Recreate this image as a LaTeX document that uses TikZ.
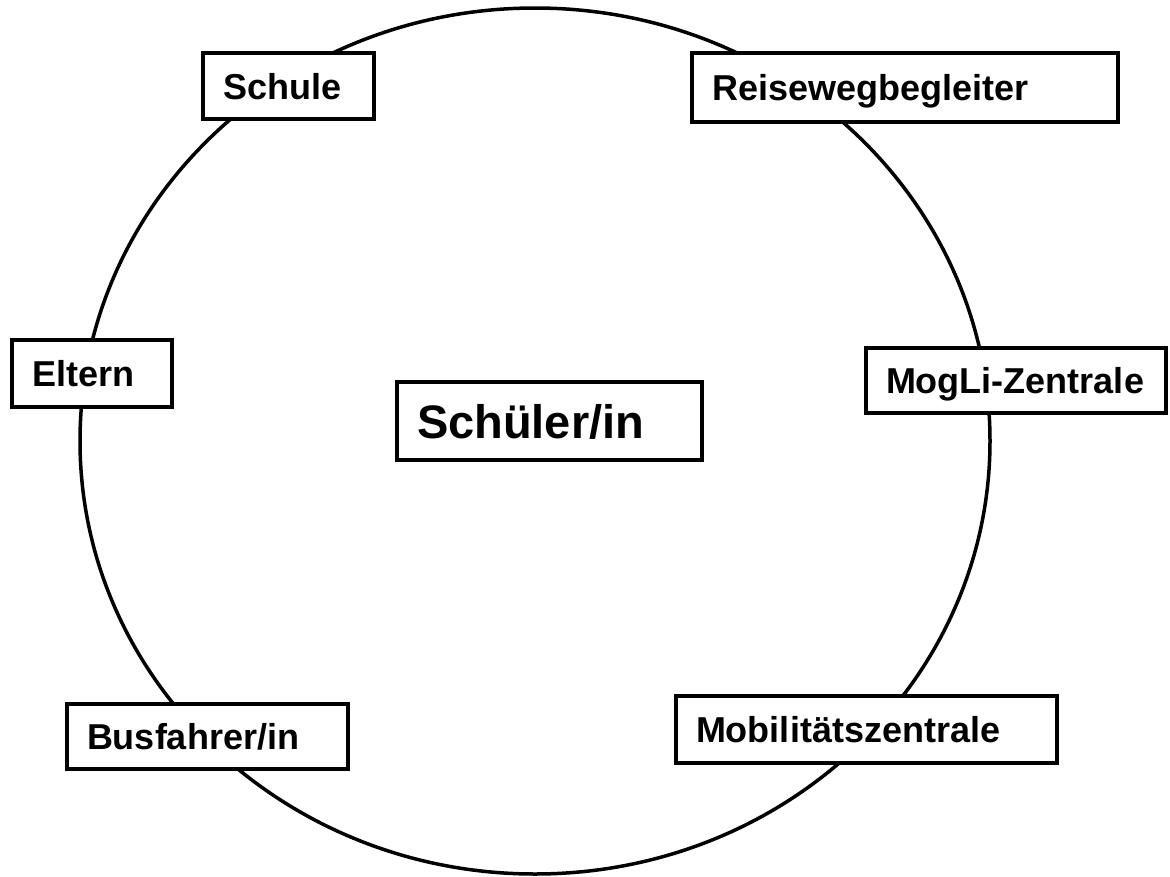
\documentclass[tikz,border=0pt]{standalone}
\usepackage{fontspec}
\setmainfont{Liberation Sans}
\begin{document}
\begin{tikzpicture}[x=1pt,y=-1pt,
  lbl/.style={draw=black, fill=white, line width=3.5pt, rectangle, inner xsep=20pt, inner ysep=0pt,
    align=left, font=\fontsize{36pt}{40pt}\selectfont\bfseries, text height=26pt, text depth=0pt},
  biglbl/.style={lbl, font=\fontsize{47pt}{52pt}\selectfont\bfseries, text height=34pt}]
\useasboundingbox (0,0) rectangle (1170,876);
\draw[line width=3.5pt] (535,441) ellipse [x radius=455pt, y radius=433pt];
\node[lbl, text width=131pt, minimum height=66pt] (schule) at (288.5,86) {Schule};
\node[lbl, text width=386pt, minimum height=69pt] (reise) at (905,87.5) {Reisewegbegleiter};
\node[lbl, text width=120pt, minimum height=67pt] (eltern) at (92,373.5) {Eltern};
\node[lbl, text width=260pt, minimum height=65pt] (mogli) at (1016,380.5) {MogLi-Zentrale};
\node[biglbl, text width=265pt, minimum height=78pt] (schueler) at (549.5,421) {Schüler/in};
\node[lbl, text width=241pt, minimum height=65pt] (bus) at (207.5,736.5) {Busfahrer/in};
\node[lbl, text width=341pt, minimum height=67pt] (mobil) at (866.5,729.5) {Mobilitätszentrale};
\end{tikzpicture}
\end{document}
